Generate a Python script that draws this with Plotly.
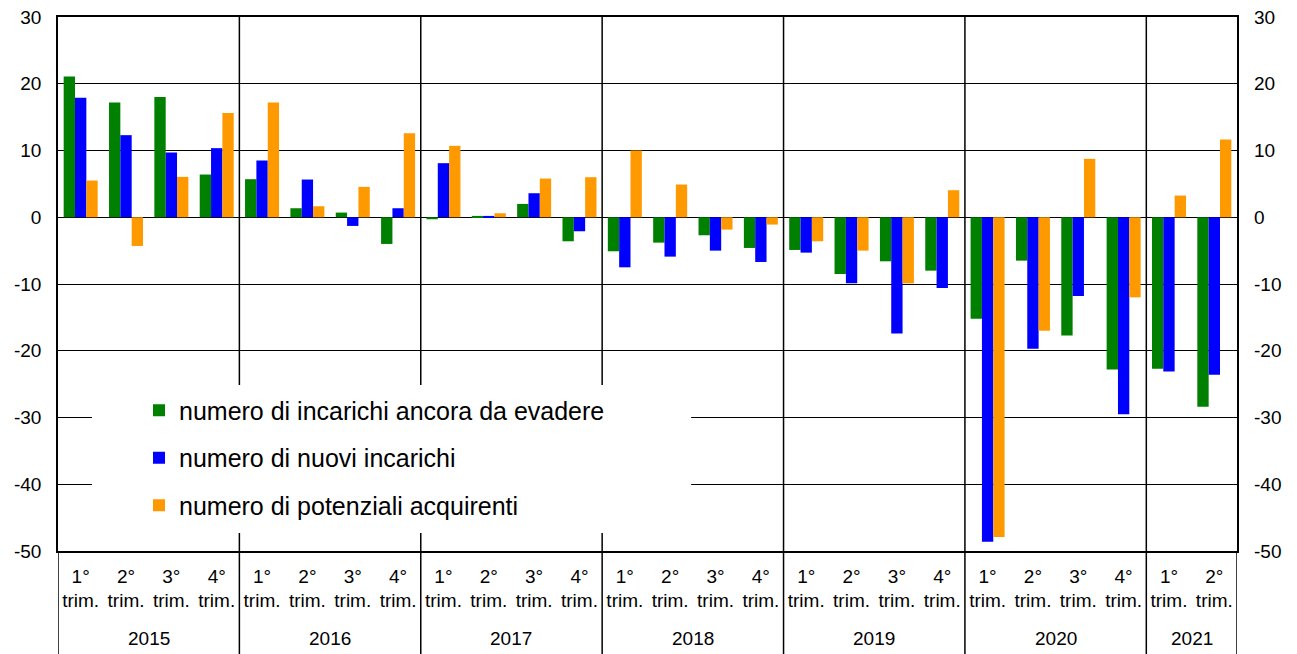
import plotly.graph_objects as go

years = ["2015"] * 4 + ["2016"] * 4 + ["2017"] * 4 + ["2018"] * 4 + ["2019"] * 4 + ["2020"] * 4 + ["2021"] * 2
quarter_labels = (["1°<br>trim.", "2°<br>trim.", "3°<br>trim.", "4°<br>trim."] * 7)[:26]
quarter_keys = [f"{y} T{i % 4 + 1}" for i, y in enumerate(years)]

green = [21.1, 17.2, 18.0, 6.4, 5.7, 1.35, 0.7, -4.0, -0.3, 0.2, 2.0, -3.6,
         -5.1, -3.8, -2.7, -4.6, -4.9, -8.5, -6.6, -8.0, -15.2, -6.5, -17.7, -22.8,
         -22.7, -28.4]
blue = [17.9, 12.3, 9.7, 10.35, 8.5, 5.65, -1.3, 1.35, 8.1, 0.2, 3.6, -2.1,
        -7.5, -5.9, -5.0, -6.7, -5.3, -9.9, -17.4, -10.6, -48.6, -19.7, -11.8, -29.5,
        -23.1, -23.6]
orange = [5.5, -4.3, 6.05, 15.6, 17.2, 1.65, 4.55, 12.6, 10.7, 0.6, 5.8, 6.0,
          10.0, 4.9, -1.85, -1.1, -3.6, -5.0, -9.9, 4.05, -47.9, -17.0, 8.75, -12.0,
          3.25, 11.65]

series_names = ["numero di incarichi ancora da evadere",
                "numero di nuovi incarichi",
                "numero di potenziali acquirenti"]
series_colors = ["#008000", "#0000FF", "#FF9900"]

y_ticks = [30, 20, 10, 0, -10, -20, -30, -40, -50]
y_ticktext = [str(v) for v in y_ticks]

FONT = "Arial, Liberation Sans, sans-serif"

W, H = 1289, 646
ML, MR, MT, MB = 50, 60, 9, 103
PH = H - MT - MB

fig = go.Figure()
for i, (vals, name, col) in enumerate(zip([green, blue, orange], series_names, series_colors)):
    fig.add_trace(go.Bar(x=quarter_keys, y=vals, name=name, marker=dict(color=col, line=dict(width=0)),
                         legendgroup=f"g{i}"))

# invisible trace to display the right-hand axis
fig.add_trace(go.Scatter(x=quarter_keys, y=green, yaxis="y2", mode="markers",
                         marker=dict(opacity=0), showlegend=False, hoverinfo="skip"))

n = len(years)
# year groups
groups = []
start = 0
for i in range(1, n + 1):
    if i == n or years[i] != years[i - 1]:
        groups.append((years[start], start, i - 1))
        start = i

bottom = -MB / PH
for yr, s, e in groups:
    fig.add_shape(type="line", xref="x", yref="paper", x0=s - 0.5, x1=s - 0.5,
                  y0=bottom, y1=1 if s > 0 else 0,
                  line=dict(color="black", width=1.5), layer="above")
    fig.add_annotation(x=(s + e) / 2, xref="x", y=-87 / PH, yref="paper", yanchor="middle",
                       text=yr, showarrow=False, font=dict(size=19, family=FONT, color="black"))
fig.add_shape(type="line", xref="x", yref="paper", x0=n - 0.5, x1=n - 0.5, y0=bottom, y1=0,
              line=dict(color="black", width=1.5), layer="above")

# white legend background panel
fig.add_shape(type="rect", xref="paper", yref="paper", x0=0.0288, x1=0.537, y0=0.0337, y1=0.311,
              fillcolor="white", line=dict(width=0), layer="above")

fig.update_layout(
    width=W, height=H,
    margin=dict(l=ML, r=MR, t=MT, b=MB),
    paper_bgcolor="white", plot_bgcolor="white",
    barmode="group", bargap=0.25, bargroupgap=0,
    font=dict(family=FONT, size=19, color="black"),
    showlegend=True,
    legend=dict(x=0.0687, y=0.3015 + 2.5 / PH, xanchor="left", yanchor="top",
                bgcolor="rgba(0,0,0,0)", font=dict(size=25, family=FONT),
                traceorder="grouped", tracegroupgap=12),
    xaxis=dict(type="category", range=[-0.5, n - 0.5], autorange=False, automargin=False,
               tickvals=quarter_keys, ticktext=quarter_labels, ticklabelstandoff=7,
               showgrid=False, showline=True, linecolor="black", linewidth=1.5,
               mirror=True, ticks="", tickangle=0, tickfont=dict(size=19, family=FONT)),
    yaxis=dict(range=[-50, 30], autorange=False, automargin=False, tickvals=y_ticks, ticktext=y_ticktext,
               showgrid=True, gridcolor="black", gridwidth=1.2, zeroline=True, zerolinecolor="black",
               zerolinewidth=1.2, showline=True, linecolor="black", linewidth=1.5, mirror=True, ticks="",
               ticklabelstandoff=11, ticklabeloverflow="allow", tickfont=dict(size=19, family=FONT)),
    yaxis2=dict(range=[-50, 30], autorange=False, automargin=False, tickvals=y_ticks, ticktext=y_ticktext,
                overlaying="y", side="right", showgrid=False, zeroline=False, ticks="",
                ticklabelstandoff=16, ticklabeloverflow="allow", tickfont=dict(size=19, family=FONT)),
)

fig.write_html("out.html")
